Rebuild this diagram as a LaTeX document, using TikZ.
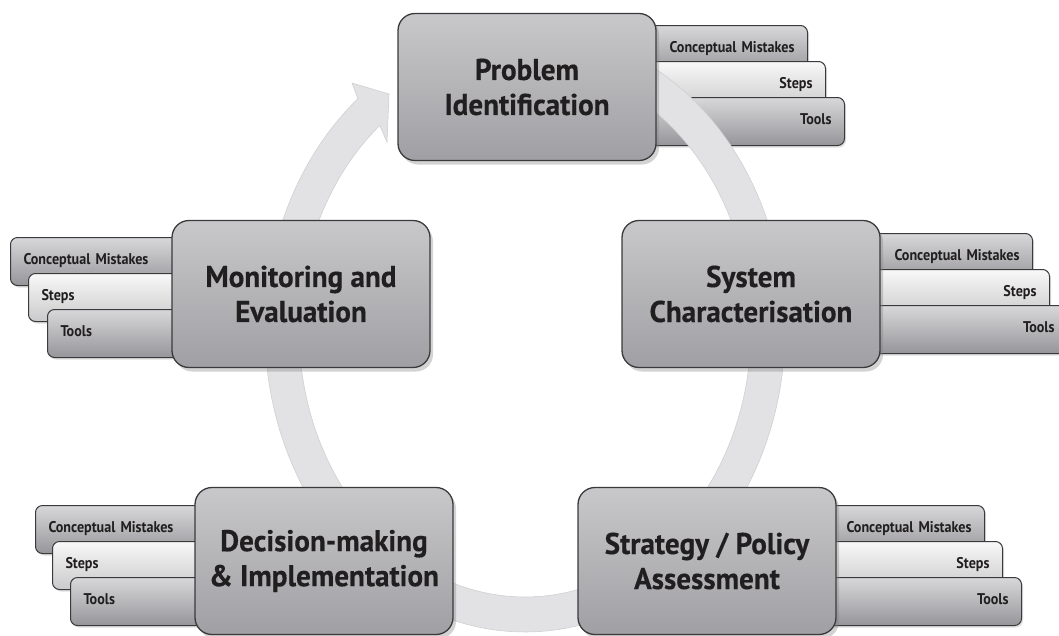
\documentclass[tikz,border=0pt]{standalone}
\usepackage{fontspec}
\setmainfont{PT Sans}
\newfontfamily\boxfont[FakeStretch=0.91]{PT Sans}
\newfontfamily\stagefont[FakeStretch=0.97, FakeBold=0.4]{PT Sans}
\usetikzlibrary{shadows}

\definecolor{edge}{HTML}{3A3A3C}
\definecolor{ink}{HTML}{211E1F}
\definecolor{ringfill}{HTML}{E2E2E4}
\definecolor{ringline}{HTML}{D0D0D2}
\definecolor{boxtop}{HTML}{C8C8CA}
\definecolor{boxbot}{HTML}{A0A0A4}
\definecolor{tabtop}{HTML}{D8D8DA}
\definecolor{tabbot}{HTML}{96969A}
\definecolor{ltabtop}{HTML}{F8F8F8}
\definecolor{ltabbot}{HTML}{CACACC}

\tikzset{
  tab/.style={draw=edge, line width=1pt, rounded corners=7pt,
    minimum height=48pt, text height=12pt, text depth=7pt,
    inner xsep=13pt, text=ink,
    font=\boxfont\bfseries\fontsize{15.5}{18}\selectfont,
    drop shadow={opacity=0.25, shadow xshift=1.5pt, shadow yshift=-2pt}},
  darktab/.style={tab, top color=tabtop, bottom color=tabbot},
  lighttab/.style={tab, top color=ltabtop, bottom color=ltabbot},
  onright/.style={anchor=north east, text width=#1, align=right},
  onleft/.style={anchor=north west, text width=#1, align=left},
  mainbox/.style={draw=edge, line width=1.3pt, rounded corners=17pt,
    minimum width=258pt, minimum height=147pt,
    top color=boxtop, bottom color=boxbot, align=center, text=ink,
    font=\stagefont\bfseries\fontsize{30}{35}\selectfont,
    drop shadow={opacity=0.35, shadow xshift=3pt, shadow yshift=-4pt}},
}

\begin{document}
\begin{tikzpicture}[x=1pt, y=-1pt]
\useasboundingbox (0,0) rectangle (1059,635);

% --- side tabs: Problem Identification
\node[darktab, onright=164] (piCM) at (808,25) {Conceptual Mistakes};
\node[lighttab, onright=182] (piST) at (826,61) {Steps};
\node[darktab, onright=201] (piTO) at (845,97) {Tools};

% --- side tabs: Monitoring and Evaluation
\node[darktab, onleft=166] (meCM) at (10,237) {Conceptual Mistakes};
\node[lighttab, onleft=148] (meST) at (28,273) {Steps};
\node[darktab, onleft=129] (meTO) at (47,309) {Tools};

% --- side tabs: System Characterisation
\node[darktab, onright=157] (scCM) at (1033,233) {Conceptual Mistakes};
\node[lighttab, onright=174] (scST) at (1050,269) {Steps};
\node[darktab, onright=192] (scTO) at (1068,305) {Tools};

% --- side tabs: Decision-making & Implementation
\node[darktab, onleft=166] (dmCM) at (35,505) {Conceptual Mistakes};
\node[lighttab, onleft=149] (dmST) at (52,541) {Steps};
\node[darktab, onleft=131] (dmTO) at (70,577) {Tools};

% --- side tabs: Strategy / Policy Assessment
\node[darktab, onright=160] (saCM) at (985,505) {Conceptual Mistakes};
\node[lighttab, onright=178] (saST) at (1003,541) {Steps};
\node[darktab, onright=197] (saTO) at (1022,577) {Tools};

% --- the cycle: a broad elliptical band ending in an arrowhead
\filldraw[fill=ringfill, draw=ringline, line width=0.6pt]
  plot[domain=75:-230, samples=140] ({525+260*cos(\x)},{330-302*sin(\x)})
  -- (352,83) -- (389,94) -- (387,142)
  -- plot[domain=-230:75, samples=140] ({525+226*cos(\x)},{330-267*sin(\x)})
  -- cycle;

% --- the five stages
\node[mainbox] (prob) at (527,87) {Problem\\Identification};
\node[mainbox] (sysc) at (751,294) {System\\Characterisation};
\node[mainbox] (strat) at (707,561) {Strategy / Policy\\Assessment};
\node[mainbox] (decis) at (324,561) {Decision-making\\\& Implementation};
\node[mainbox] (monit) at (301,294) {Monitoring and\\Evaluation};
\end{tikzpicture}
\end{document}
